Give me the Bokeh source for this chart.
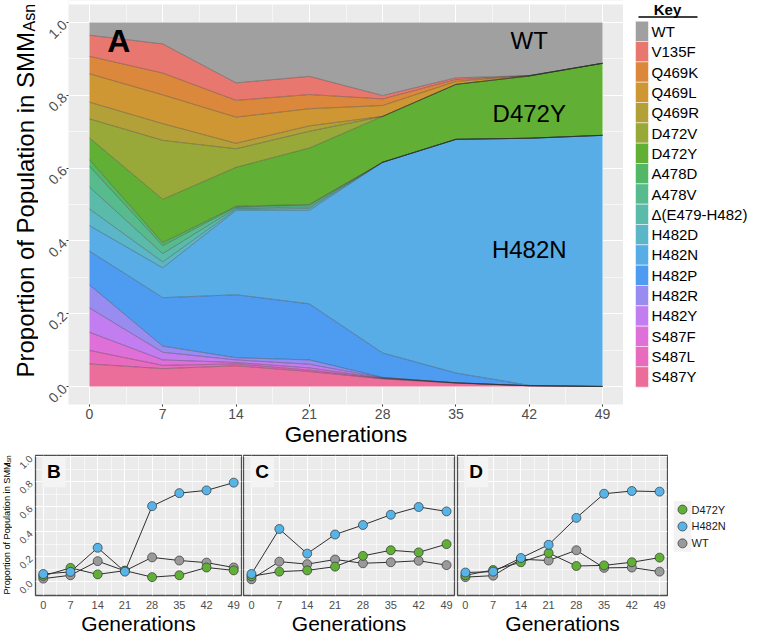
import numpy as np
from math import pi
from bokeh.plotting import figure
from bokeh.models import (Range1d, FixedTicker, Label, ColumnDataSource,
                          NumeralTickFormatter, BoxAnnotation)
from bokeh.layouts import row, column
from bokeh.embed import file_html
from bokeh.resources import INLINE
from bokeh.core.properties import value

FONT = "Liberation Sans"

# ---------------- data ----------------
generations = [0, 7, 14, 21, 28, 35, 42, 49]

# Panel A: proportion of population (stack order bottom -> top)
S487Y = [0.062, 0.049, 0.057, 0.041, 0.021, 0.009, 0.002, 0.000]
S487L = [0.037, 0.009, 0.005, 0.004, 0.001, 0.001, 0.000, 0.000]
S487F = [0.050, 0.015, 0.004, 0.006, 0.001, 0.000, 0.000, 0.000]
H482Y = [0.067, 0.021, 0.007, 0.010, 0.001, 0.000, 0.000, 0.000]
H482R = [0.063, 0.017, 0.006, 0.012, 0.001, 0.000, 0.000, 0.000]
H482P = [0.093, 0.133, 0.173, 0.154, 0.067, 0.027, 0.001, 0.000]
H482N = [0.070, 0.082, 0.232, 0.257, 0.524, 0.642, 0.679, 0.690]
H482D = [0.046, 0.016, 0.003, 0.005, 0.000, 0.000, 0.000, 0.000]
DEL_E479_H482 = [0.060, 0.023, 0.003, 0.004, 0.000, 0.000, 0.000, 0.000]
A478V = [0.057, 0.022, 0.003, 0.005, 0.000, 0.000, 0.000, 0.000]
A478D = [0.018, 0.008, 0.002, 0.002, 0.000, 0.000, 0.000, 0.000]
D472Y = [0.060, 0.119, 0.107, 0.155, 0.126, 0.151, 0.171, 0.198]
D472V = [0.052, 0.162, 0.051, 0.046, 0.000, 0.000, 0.000, 0.000]
Q469R = [0.046, 0.046, 0.015, 0.015, 0.000, 0.000, 0.000, 0.000]
Q469L = [0.078, 0.079, 0.072, 0.047, 0.030, 0.008, 0.001, 0.000]
Q469K = [0.048, 0.060, 0.046, 0.039, 0.018, 0.005, 0.000, 0.000]
V135F = [0.058, 0.080, 0.048, 0.050, 0.009, 0.005, 0.000, 0.000]
WT = [0.035, 0.059, 0.166, 0.148, 0.201, 0.152, 0.146, 0.112]

stack_keys = ["S487Y", "S487L", "S487F", "H482Y", "H482R", "H482P", "H482N", "H482D",
              "DEL", "A478V", "A478D", "D472Y", "D472V", "Q469R", "Q469L", "Q469K",
              "V135F", "WT"]
stack_labels = ["S487Y", "S487L", "S487F", "H482Y", "H482R", "H482P", "H482N", "H482D",
                "\u0394(E479-H482)", "A478V", "A478D", "D472Y", "D472V", "Q469R", "Q469L",
                "Q469K", "V135F", "WT"]
stack_values = [S487Y, S487L, S487F, H482Y, H482R, H482P, H482N, H482D, DEL_E479_H482,
                A478V, A478D, D472Y, D472V, Q469R, Q469L, Q469K, V135F, WT]
stack_colors = ["#EB6E9A", "#E86BBD", "#DF6FD9", "#C27DF0", "#998CF0", "#4E9CF2", "#58ADE6",
                "#5BB7C7", "#5BBBAB", "#57BB8D", "#54B767", "#61B035", "#98A93A", "#B3A038",
                "#CF9634", "#DC883C", "#E8776F", "#A0A0A0"]

# Panels B-D: D472Y, H482N, WT per replicate
B_D472Y = [0.047, 0.111, 0.059, 0.089, 0.037, 0.052, 0.114, 0.091]
B_H482N = [0.062, 0.079, 0.272, 0.081, 0.605, 0.709, 0.731, 0.793]
B_WT = [0.025, 0.052, 0.165, 0.087, 0.195, 0.170, 0.153, 0.114]

C_D472Y = [0.044, 0.081, 0.091, 0.121, 0.207, 0.252, 0.235, 0.301]
C_H482N = [0.062, 0.422, 0.225, 0.378, 0.454, 0.536, 0.598, 0.563]
C_WT = [0.020, 0.161, 0.141, 0.178, 0.148, 0.156, 0.168, 0.133]

D_D472Y = [0.052, 0.094, 0.156, 0.230, 0.126, 0.131, 0.156, 0.193]
D_H482N = [0.074, 0.081, 0.190, 0.296, 0.511, 0.704, 0.726, 0.721]
D_WT = [0.037, 0.049, 0.180, 0.170, 0.252, 0.111, 0.114, 0.081]

line_series = ["D472Y", "H482N", "WT"]
line_colors = {"D472Y": "#5FB035", "H482N": "#56B4E9", "WT": "#9A9A9A"}

x_ticks = [0, 7, 14, 21, 28, 35, 42, 49]
x_minor = [3.5, 10.5, 17.5, 24.5, 31.5, 38.5, 45.5]
y_ticks = [0.0, 0.2, 0.4, 0.6, 0.8, 1.0]
y_minor = [0.1, 0.3, 0.5, 0.7, 0.9]

XR = (-2.0, 51.0)
Y_TITLE = "Proportion of Population in SMM"
Y_SUB = "Asn"
BASE_SHIFT = 0.28  # rendered alphabetic baseline sits ~0.28 em below the anchor


def blank_fig(w, h, top, bottom):
    # frame covers canvas rows [top, h-bottom]; y data == pixel row of the canvas
    f = figure(width=w, height=h, x_range=Range1d(0, w), y_range=Range1d(h - bottom, top),
               output_backend="svg", toolbar_location=None, min_border_left=0,
               min_border_right=0, min_border_top=top, min_border_bottom=bottom,
               x_axis_location=None, y_axis_location=None)
    f.outline_line_color = None
    f.grid.visible = False
    return f


def vtext(fig, base_x, y, txt, size):
    # vertical (bottom-to-top) text whose baseline lies at base_x
    fig.text(x=[base_x - BASE_SHIFT * size], y=[y], text=[txt], angle=pi / 2,
             text_align="left", text_baseline="alphabetic", text_font=value(FONT),
             text_font_size=value(f"{size}px"), text_color="black")


def style_grid(p):
    p.background_fill_color = "#EBEBEB"
    p.border_fill_color = "white"
    p.xgrid.grid_line_color = "white"
    p.ygrid.grid_line_color = "white"
    p.xgrid.grid_line_width = 1.1
    p.ygrid.grid_line_width = 1.1
    p.xgrid.minor_grid_line_color = "white"
    p.ygrid.minor_grid_line_color = "white"
    p.xgrid.minor_grid_line_width = 0.55
    p.ygrid.minor_grid_line_width = 0.55


# ---------------- Row 1 ----------------
R1_H = 450
R1_TOP, R1_BOTTOM = 0, 46
T1_W = 38
A_LEFT = 30
A_W = A_LEFT + 555
LA_W = 136

tA = blank_fig(T1_W, R1_H, R1_TOP, R1_BOTTOM)
vtext(tA, 32, 377, Y_TITLE, 24)
vtext(tA, 33, 31, Y_SUB, 16)

pA = figure(width=A_W, height=R1_H, x_range=Range1d(*XR), y_range=Range1d(-0.0495, 1.0604),
            output_backend="svg", toolbar_location=None,
            min_border_left=A_LEFT, min_border_right=0, min_border_top=R1_TOP,
            min_border_bottom=R1_BOTTOM)
style_grid(pA)
pA.outline_line_color = None

srcA = ColumnDataSource(dict(gen=generations, **{k: v for k, v in zip(stack_keys, stack_values)}))
pA.varea_stack(stackers=stack_keys, x="gen", color=stack_colors, source=srcA)
tops = np.cumsum(np.array(stack_values), axis=0)
pA.multi_line(xs=[generations] * (len(stack_keys) - 1), ys=[list(t) for t in tops[:-1]],
              line_color="#2B2B2B", line_alpha=0.55, line_width=0.7)
# white strip above the panel (panel starts a few px below the canvas top)
pA.add_layout(BoxAnnotation(bottom=1.0494, fill_color="white", fill_alpha=1.0,
                            line_color=None))

pA.xaxis.ticker = FixedTicker(ticks=x_ticks, minor_ticks=x_minor)
pA.yaxis.ticker = FixedTicker(ticks=y_ticks, minor_ticks=y_minor)
pA.yaxis.formatter = NumeralTickFormatter(format="0.0")
for ax in (pA.xaxis[0], pA.yaxis[0]):
    ax.axis_line_color = None
    ax.major_tick_line_color = "#333333"
    ax.major_tick_out = 2
    ax.major_tick_in = 0
    ax.minor_tick_line_color = None
    ax.major_label_text_font = FONT
    ax.major_label_text_font_size = "14px"
    ax.major_label_text_color = "#4D4D4D"
    ax.major_label_standoff = 0
pA.yaxis.major_label_orientation = pi / 4
pA.xaxis.axis_label = "Generations"
pA.xaxis.axis_label_text_font = FONT
pA.xaxis.axis_label_text_font_size = "22.5px"
pA.xaxis.axis_label_text_font_style = "normal"
pA.xaxis.axis_label_text_color = "black"
pA.xaxis.axis_label_standoff = 0

pA.add_layout(Label(x=2.8, y=0.95, text="A", text_align="center", text_baseline="middle",
                    text_font=FONT, text_font_size="32px", text_font_style="bold",
                    text_color="black"))
for txt, yv in (("WT", 0.95), ("D472Y", 0.75), ("H482N", 0.376)):
    pA.add_layout(Label(x=42, y=yv, text=txt, text_align="center", text_baseline="middle",
                        text_font=FONT, text_font_size="24px", text_color="black"))

# legend for A
legA = blank_fig(LA_W, R1_H, R1_TOP, R1_BOTTOM)
key_labels = stack_labels[::-1]
key_colors = stack_colors[::-1]
row_h = 20.33
row_top = 20.7
ys = [row_top + (i + 0.5) * row_h for i in range(len(key_labels))]
legA.rect(x=[18.5] * len(ys), y=ys, width=13, height=row_h, fill_color=key_colors,
          line_color="white", line_width=0.5)
legA.text(x=[28] * len(ys), y=ys, text=key_labels, text_font=value(FONT),
          text_font_size=value("15px"), text_baseline="middle", text_align="left",
          text_color="black")
legA.text(x=[44], y=[13 - BASE_SHIFT * 15], text=["Key"], text_font=value(FONT),
          text_font_size=value("15px"), text_font_style="bold", text_baseline="alphabetic",
          text_align="center", text_color="black")
legA.segment(x0=[15], y0=[16.5], x1=[74], y1=[16.5], line_color="black", line_width=1.6)

# ---------------- Row 2 ----------------
R2_H = 187
R2_TOP, R2_BOTTOM = 5, 37
R2_Y0 = 450  # page row where row 2 starts


def small_panel(letter, dvals, hvals, wvals, width, left, right, show_y):
    p = figure(width=width, height=R2_H, x_range=Range1d(*XR), y_range=Range1d(-0.11, 1.01),
               output_backend="svg", toolbar_location=None,
               min_border_left=left, min_border_right=right, min_border_top=R2_TOP,
               min_border_bottom=R2_BOTTOM, y_axis_location=("left" if show_y else None))
    style_grid(p)
    p.outline_line_color = "#4D4D4D"
    p.outline_line_width = 1.3
    series = {"D472Y": dvals, "H482N": hvals, "WT": wvals}
    for name in ("WT", "D472Y", "H482N"):
        p.line(generations, series[name], line_color="#2F2F2F", line_width=1.0)
    for name in ("WT", "D472Y", "H482N"):
        p.scatter(generations, series[name], size=9, fill_color=line_colors[name],
                  line_color="#333333", line_width=0.7)
    p.xaxis.ticker = FixedTicker(ticks=x_ticks, minor_ticks=x_minor)
    axes = [p.xaxis[0]]
    if show_y:
        p.yaxis.ticker = FixedTicker(ticks=y_ticks, minor_ticks=y_minor)
        p.yaxis.formatter = NumeralTickFormatter(format="0.0")
        p.yaxis.major_label_orientation = pi / 4
        axes.append(p.yaxis[0])
    else:
        p.ygrid.ticker = FixedTicker(ticks=y_ticks, minor_ticks=y_minor)
    for ax in axes:
        ax.axis_line_color = None
        ax.major_tick_line_color = "#333333"
        ax.major_tick_out = 0
        ax.major_tick_in = 0
        ax.minor_tick_line_color = None
        ax.major_label_text_font = FONT
        ax.major_label_text_font_size = "11px"
        ax.major_label_text_color = "#4D4D4D"
        ax.major_label_standoff = 1
    if show_y:
        p.yaxis.major_label_text_font_size = "10px"
    p.xaxis.axis_label = "Generations"
    p.xaxis.axis_label_text_font = FONT
    p.xaxis.axis_label_text_font_size = "21px"
    p.xaxis.axis_label_text_font_style = "normal"
    p.xaxis.axis_label_text_color = "black"
    p.xaxis.axis_label_standoff = 0
    p.add_layout(Label(x=2.7, y=0.88, text=letter, text_align="center", text_baseline="middle",
                       text_font=FONT, text_font_size="19px", text_font_style="bold",
                       text_color="black", background_fill_color="#F4F4F4", padding=5))
    return p


tB = blank_fig(12, R2_H, R2_TOP, R2_BOTTOM)
# y in this figure = canvas row of row 2 (page row - 450)
vtext(tB, 9.5, 599 - R2_Y0, Y_TITLE, 9.2)
vtext(tB, 10.2, 466.6 - R2_Y0, Y_SUB, 6.5)

pB = small_panel("B", B_D472Y, B_H482N, B_WT, 230, 19, 1, True)
pC = small_panel("C", C_D472Y, C_H482N, C_WT, 214, 1, 2, False)
pD = small_panel("D", D_D472Y, D_H482N, D_WT, 212, 1, 1, False)

# legend for B-D
legB = blank_fig(91, R2_H, R2_TOP, R2_BOTTOM)
ly = [511 - R2_Y0 + i * 17.5 for i in range(len(line_series))]
legB.rect(x=[14] * 3, y=ly, width=17.5, height=17.5, fill_color="#F2F2F2", line_color=None)
legB.scatter(x=[14] * 3, y=ly, size=9, fill_color=[line_colors[s] for s in line_series],
             line_color="#333333", line_width=0.7)
legB.text(x=[23] * 3, y=ly, text=line_series, text_font=value(FONT),
          text_font_size=value("11px"), text_baseline="middle", text_align="left",
          text_color="#1A1A1A")

layout = column(row(tA, pA, legA, spacing=0), row(tB, pB, pC, pD, legB, spacing=0), spacing=0)

with open("out.html", "w") as f:
    f.write(file_html(layout, INLINE, "chart"))
